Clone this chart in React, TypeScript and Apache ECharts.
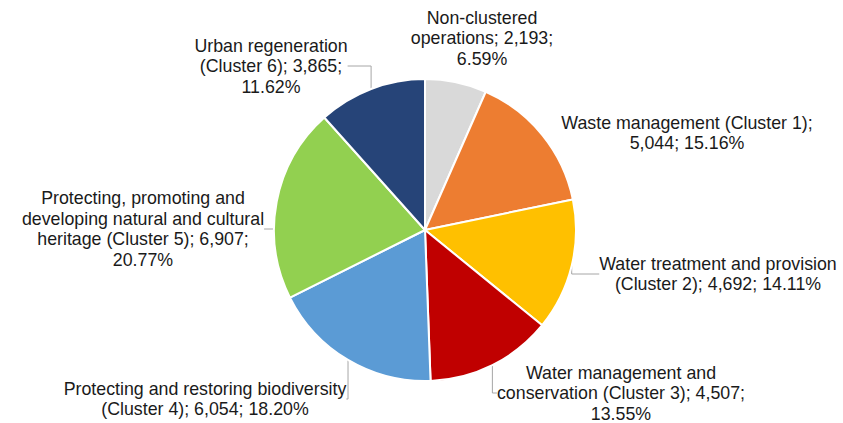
import React, { useEffect, useRef } from "react";
import * as echarts from "echarts";

const categories = [
  "Non-clustered operations",
  "Waste management (Cluster 1)",
  "Water treatment and provision (Cluster 2)",
  "Water management and conservation (Cluster 3)",
  "Protecting and restoring biodiversity (Cluster 4)",
  "Protecting, promoting and developing natural and cultural heritage (Cluster 5)",
  "Urban regeneration (Cluster 6)",
];
const values = [2193, 5044, 4692, 4507, 6054, 6907, 3865];
const labelTemplates = [
  "Non-clustered\noperations; {v};\n{p}%",
  "Waste management (Cluster 1);\n{v}; {p}%",
  "Water treatment and provision\n(Cluster 2); {v}; {p}%",
  "Water management and\nconservation (Cluster 3); {v};\n{p}%",
  "Protecting and restoring biodiversity\n(Cluster 4); {v}; {p}%",
  "Protecting, promoting and\ndeveloping natural and cultural\nheritage (Cluster 5); {v};\n{p}%",
  "Urban regeneration\n(Cluster 6); {v};\n{p}%",
];
const colors = ["#D9D9D9", "#ED7D31", "#FFC000", "#C00000", "#5B9BD5", "#92D050", "#264478"];
const showLine = [false, false, true, true, true, true, true];
// label block centres (layout)
const labelPos = [
  [482, 38],
  [687, 133],
  [718, 274],
  [621, 393],
  [205, 399],
  [143, 229],
  [271, 66],
];

export default function App() {
  const ref = useRef<HTMLDivElement>(null);
  useEffect(() => {
    document.body.style.margin = "0";
    const chart = echarts.init(ref.current!, null, { renderer: "svg" });
    const total = values.reduce((a, b) => a + b, 0);
    chart.setOption({
      animation: false,
      backgroundColor: "#fff",
      series: [
        {
          type: "pie",
          center: [425, 230],
          radius: 151,
          startAngle: 90,
          clockwise: true,
          data: categories.map((n, i) => ({
            name: n,
            value: values[i],
            itemStyle: { color: colors[i] },
            labelLine: { show: showLine[i] },
          })),
          itemStyle: { borderColor: "#fff", borderWidth: 2 },
          label: {
            show: true,
            overflow: "none",
            fontFamily: "Liberation Sans, Arial, sans-serif",
            fontSize: 17.8,
            lineHeight: 20.5,
            color: "#1a1a1a",
            align: "center",
            formatter: (p: any) =>
              labelTemplates[p.dataIndex]
                .replace("{v}", values[p.dataIndex].toLocaleString("en-US"))
                .replace("{p}", ((values[p.dataIndex] / total) * 100).toFixed(2)),
          },
          labelLine: {
            show: true,
            lineStyle: { color: "#A6A6A6", width: 1 },
          },
          labelLayout: (params: any) => ({
            x: labelPos[params.dataIndex][0],
            y: labelPos[params.dataIndex][1],
            align: "center",
            verticalAlign: "middle",
          }),
          emphasis: { disabled: true },
        },
      ],
    });
    return () => chart.dispose();
  }, []);
  return <div ref={ref} style={{ width: 843, height: 423 }} />;
}
